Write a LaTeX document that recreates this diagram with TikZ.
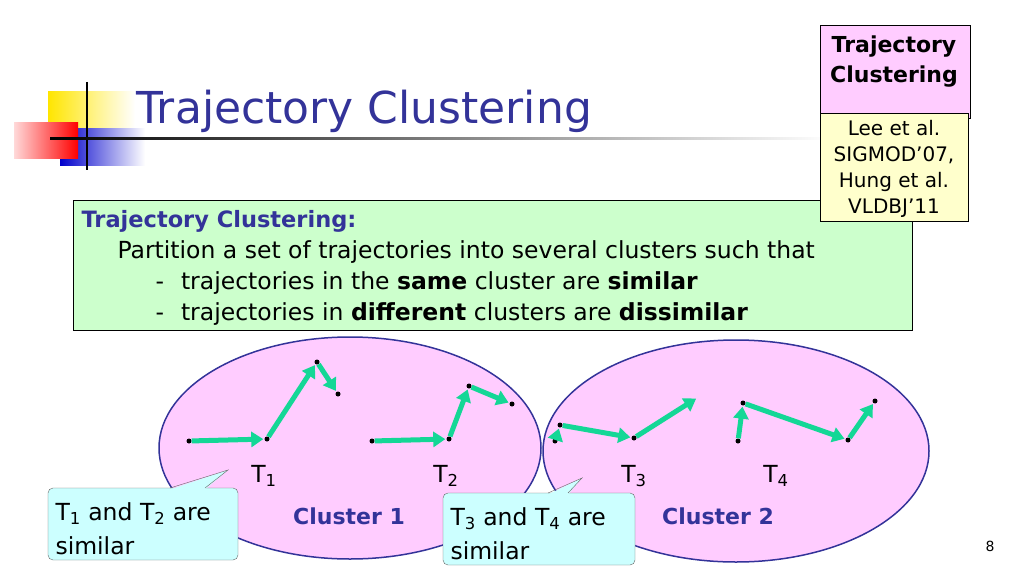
\documentclass[tikz,border=0pt]{standalone}
\usepackage{fontspec}
\setmainfont{DejaVu Sans}
\usetikzlibrary{arrows.meta,shapes.geometric}
\definecolor{ttl}{RGB}{51,51,153}
\definecolor{arr}{RGB}{20,215,150}
\definecolor{pinkc}{RGB}{255,204,255}
\definecolor{greenb}{RGB}{204,255,204}
\definecolor{yel}{RGB}{255,255,204}
\definecolor{cyanb}{RGB}{204,255,255}
\begin{document}
\begin{tikzpicture}[x=1pt,y=-1pt,
  pt/.style={circle,fill=black,inner sep=0pt,minimum size=5pt},
  seg/.style={draw=arr,line width=5pt,-{Triangle[length=12pt,width=15pt]},shorten >=1pt},
  clus/.style={ellipse,draw=ttl,line width=1.5pt,fill=pinkc},
  lab/.style={font=\fontsize{23.5}{34}\selectfont},
  call/.style={draw=black!60,fill=cyanb,rounded corners=5pt}]
\useasboundingbox (0,0) rectangle (1024,575);
% logo
\shade[left color=yellow!80!orange, right color=white] (48,92) rectangle (135,135);
\shade[left color=blue!80!black, right color=white] (60,128) rectangle (145,165);
\shade[left color=red!15, right color=red] (14,122) rectangle (78,158);
\draw[line width=1.5pt] (87,82) -- (87,170);
\shade[left color=black, right color=white] (50,137) rectangle (830,139.5);
\node[anchor=west,text=ttl,font=\fontsize{44}{50}\selectfont] (title) at (133,111) {Trajectory Clustering};
% green definition
\node[draw,fill=greenb,minimum width=839pt,minimum height=130pt,anchor=north west] (def) at (73,200) {};
\node[anchor=west,text=ttl,font=\bfseries\fontsize{22.5}{24}\selectfont] (d1) at (78,221) {Trajectory Clustering:};
\node[anchor=west,lab] (d2) at (114,252) {Partition a set of trajectories into several clusters such that};
\node[anchor=west,lab] (d3) at (152,283) {-\hspace{17pt}trajectories in the \textbf{same} cluster are \textbf{similar}};
\node[anchor=west,lab] (d4) at (152,314) {-\hspace{17pt}trajectories in \textbf{different} clusters are \textbf{dissimilar}};
% top right boxes
\node[draw,fill=pinkc,minimum width=150pt,minimum height=93pt,anchor=north west] (tc) at (820,25) {};
\node[align=center,font=\bfseries\fontsize{22}{30}\selectfont] (tct) at (894,62) {Trajectory\\Clustering};
\node[draw,fill=yel,minimum width=148pt,minimum height=108pt,anchor=north west] (ref) at (820,113) {};
\node[align=center,font=\fontsize{20}{26}\selectfont] (reft) at (894,169) {Lee et al.\\SIGMOD’07,\\Hung et al.\\VLDBJ’11};
% clusters
\node[clus,minimum width=382pt,minimum height=222pt] (c1) at (350,448) {};
\node[clus,minimum width=386pt,minimum height=222pt] (c2) at (736,451) {};
\node[text=ttl,font=\bfseries\fontsize{22}{24}\selectfont] (cl1) at (349,516) {Cluster 1};
\node[text=ttl,font=\bfseries\fontsize{22}{24}\selectfont] (cl2) at (718,516) {Cluster 2};
\node[lab] (t1) at (264,476) {T\textsubscript{1}};
\node[lab] (t2) at (446,476) {T\textsubscript{2}};
\node[lab] (t3) at (634,476) {T\textsubscript{3}};
\node[lab] (t4) at (776,476) {T\textsubscript{4}};
% trajectories
\foreach \n/\x/\y in {a1/189/441,a2/267/439,a3/317/362,a4/338/394,
  b1/372/441,b2/449/439,b3/469/386,b4/512/404,
  c1p/555/441,c2p/560/425,c3p/634/438,
  e1/738/441,e2/743/403,e3/848/440,e4/875/401}
  \node[pt] (\n) at (\x,\y) {};
\coordinate (c4p) at (697,398);
\draw[seg] (a1) -- (a2); \draw[seg] (a2) -- (a3); \draw[seg] (a3) -- (a4);
\draw[seg] (b1) -- (b2); \draw[seg] (b2) -- (b3); \draw[seg] (b3) -- (b4);
\draw[seg] (c1p) -- (c2p); \draw[seg] (c2p) -- (c3p); \draw[seg] (c3p) -- (c4p);
\draw[seg] (e1) -- (e2); \draw[seg] (e2) -- (e3); \draw[seg] (e3) -- (e4);
% callouts
\draw[call] (48,488) rectangle (238,560);
\fill[cyanb] (170,489.5) -- (228,470) -- (205,489.5) -- cycle;
\draw[black!60] (170,488) -- (228,470) -- (205,488);
\node[anchor=north west,align=left,lab] (s1) at (52,499) {T\textsubscript{1} and T\textsubscript{2} are\\similar};
\draw[call] (443,493) rectangle (635,565);
\fill[cyanb] (548,494.5) -- (582,478) -- (568,494.5) -- cycle;
\draw[black!60] (548,493) -- (582,478) -- (568,493);
\node[anchor=north west,align=left,lab] (s2) at (447,504) {T\textsubscript{3} and T\textsubscript{4} are\\similar};
\node[font=\fontsize{14}{16}\selectfont] (pg) at (990,546) {8};
\end{tikzpicture}
\end{document}
